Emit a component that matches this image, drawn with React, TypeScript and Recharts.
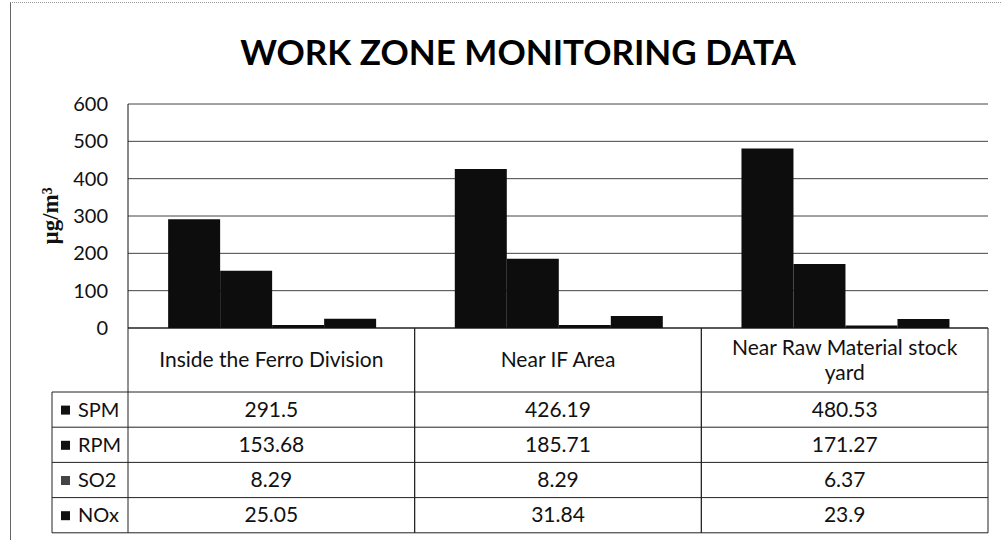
import { BarChart, Bar, XAxis, YAxis, CartesianGrid } from "recharts";

const categories = [
  "Inside the Ferro Division",
  "Near IF Area",
  "Near Raw Material stock yard",
];
// header cell text as it wraps in the table
const headerLines = [
  ["Inside the Ferro Division"],
  ["Near IF Area"],
  ["Near Raw Material stock", "yard"],
];
const spm = [291.5, 426.19, 480.53];
const rpm = [153.68, 185.71, 171.27];
const so2 = [8.29, 8.29, 6.37];
const nox = [25.05, 31.84, 23.9];
const seriesNames = ["SPM", "RPM", "SO2", "NOx"];
const seriesValues = [spm, rpm, so2, nox];
const yTicks = [0, 100, 200, 300, 400, 500, 600];

const data = categories.map((name, i) => ({
  name,
  SPM: spm[i],
  RPM: rpm[i],
  SO2: so2[i],
  NOx: nox[i],
}));

const W = 1002;
const H = 540;
const LEFT = 128;
const RIGHT = 14;
const PLOT_W = W - LEFT - RIGHT;
const HEAD_H = 64;
const ROW_H = 35.2;
const FONT = "Lato, 'Open Sans', sans-serif";
const LINE = "#222";
const CELL_FS = 21;
const HEAD_LH = 25;

function TableTick(props: any) {
  const { x, y, index } = props;
  const colW = PLOT_W / categories.length;
  const left = x - colW / 2;
  const right = x + colW / 2;
  const bottom = y + HEAD_H + ROW_H * seriesNames.length;
  const legendLeft = 52;
  const lines = headerLines[index];
  const firstBase = y + HEAD_H / 2 + 7 - ((lines.length - 1) * HEAD_LH) / 2;

  return (
    <g>
      <text textAnchor="middle" fontSize={CELL_FS} fontFamily={FONT} fill="#111">
        {lines.map((ln, k) => (
          <tspan key={k} x={x} y={firstBase + k * HEAD_LH}>
            {ln}
          </tspan>
        ))}
      </text>
      <line x1={left} x2={left} y1={y} y2={bottom} stroke={LINE} />
      <line x1={right} x2={right} y1={y} y2={bottom} stroke={LINE} />
      {seriesValues.map((vals, r) => {
        const top = y + HEAD_H + r * ROW_H;
        return (
          <g key={r}>
            <line x1={left} x2={right} y1={top} y2={top} stroke={LINE} />
            <text
              x={x}
              y={top + ROW_H / 2 + 7}
              textAnchor="middle"
              fontSize={CELL_FS}
              fontFamily={FONT}
              fill="#111"
            >
              {vals[index]}
            </text>
          </g>
        );
      })}
      <line x1={left} x2={right} y1={bottom} y2={bottom} stroke={LINE} />
      {index === 0 && (
        <g>
          <line x1={legendLeft} x2={legendLeft} y1={y + HEAD_H} y2={bottom} stroke={LINE} />
          <line x1={legendLeft} x2={left} y1={bottom} y2={bottom} stroke={LINE} />
          {seriesNames.map((s, r) => {
            const top = y + HEAD_H + r * ROW_H;
            return (
              <g key={s}>
                <line x1={legendLeft} x2={left} y1={top} y2={top} stroke={LINE} />
                <rect
                  x={61}
                  y={top + ROW_H / 2 - 4}
                  width={9}
                  height={9}
                  fill={s === "SO2" ? "#444" : "#111"}
                />
                <text
                  x={78}
                  y={top + ROW_H / 2 + 7}
                  fontSize={20}
                  fontFamily={FONT}
                  fill="#111"
                >
                  {s}
                </text>
              </g>
            );
          })}
        </g>
      )}
    </g>
  );
}

export default function App() {
  return (
    <div
      style={{
        position: "absolute",
        left: 0,
        top: 0,
        width: W,
        height: H,
        background: "#fff",
        overflow: "hidden",
      }}
    >
      <div
        style={{
          position: "absolute",
          left: 10,
          top: 2,
          width: 990,
          height: H,
          borderLeft: "1px solid #666",
          borderTop: "1px dotted #999",
        }}
      />
      <div
        style={{
          position: "absolute",
          left: 0,
          width: 1036,
          top: 29,
          textAlign: "center",
          fontFamily: FONT,
          fontWeight: 700,
          fontSize: 35,
          color: "#000",
          lineHeight: "44px",
        }}
      >
        WORK ZONE MONITORING DATA
      </div>
      <BarChart
        width={W}
        height={H}
        data={data}
        margin={{ top: 104, right: RIGHT, left: 0, bottom: 7 }}
        barCategoryGap="14%"
        barGap={0}
      >
        <CartesianGrid horizontal vertical={false} stroke="#444" />
        <XAxis
          dataKey="name"
          height={205}
          interval={0}
          tickLine={false}
          tickSize={0}
          tickMargin={0}
          axisLine={{ stroke: "#111" }}
          tick={<TableTick />}
        />
        <YAxis
          width={LEFT}
          domain={[0, 600]}
          ticks={yTicks}
          tickLine={false}
          tickMargin={14}
          axisLine={{ stroke: "#111" }}
          tick={{ fontSize: 20, fontFamily: FONT, fill: "#111" }}
          label={{
            value: "µg/m³",
            angle: -90,
            position: "insideLeft",
            offset: 50,
            style: {
              fontFamily: "'Liberation Serif', serif",
              fontWeight: 700,
              fontSize: 23,
              fill: "#111",
              textAnchor: "middle",
            },
          }}
        />
        {seriesNames.map((s) => (
          <Bar key={s} dataKey={s} fill="#0d0d0d" isAnimationActive={false} />
        ))}
      </BarChart>
    </div>
  );
}
